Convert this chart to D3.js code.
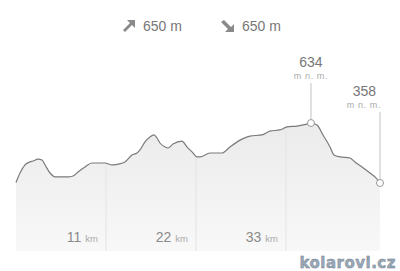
<!DOCTYPE html>
<html>
<head>
<meta charset="utf-8">
<script src="https://cdn.jsdelivr.net/npm/d3@7"></script>
<style>
  html,body{margin:0;padding:0;background:#fff;}
  svg{display:block;font-family:"Liberation Sans",Arial,sans-serif;}
</style>
</head>
<body>
<svg id="chart" width="400" height="271"></svg>
<script>
// profile: distance (km) / elevation (m n. m.)
const dist = [0,0.49,1.10,1.71,2.08,2.69,3.18,3.55,4.16,4.77,5.38,6.36,6.97,7.58,8.44,9.29,10.02,10.88,
  11.74,12.47,13.33,14.18,14.79,15.16,15.77,16.38,16.87,17.24,17.60,18.21,18.58,19.19,20.29,20.90,21.52,
  22.13,22.49,23.72,25.18,26.16,27.63,28.61,30.07,31.05,32.27,33.13,34.35,35.57,36.06,36.80,37.53,38.39,
  38.88,39.61,40.83,41.44,42.30,43.28,43.89,44.5];
const elev = [360,404,441,455,459,468,464,441,404,386,386,386,390,409,432,450,450,450,
  441,445,455,487,496,510,547,570,579,565,542,524,519,537,551,524,501,
  478,478,496,496,524,560,574,579,597,602,616,620,629,634,625,579,524,
  487,478,473,455,432,404,386,358];
const kmTicks = [11,22,33];
const ascent = 650, descent = 650;
const marks = [{km:36.06, ele:634, anchor:"middle"}, {km:44.5, ele:358, anchor:"end"}];

const svg = d3.select("#chart");
const x = d3.scaleLinear().domain([0,44.5]).range([16,380]);
const y = d3.scaleLinear().domain([358,634]).range([183,123]);
const yBase = 251;
const pts = dist.map((d,i)=>[d,elev[i]]);

const defs = svg.append("defs");
const grad = defs.append("linearGradient").attr("id","fill").attr("x1",0).attr("y1",0).attr("x2",0).attr("y2",1);
grad.append("stop").attr("offset","0%").attr("stop-color","#ebebeb");
grad.append("stop").attr("offset","100%").attr("stop-color","#f8f8f8");

const area = d3.area().x(d=>x(d[0])).y0(yBase).y1(d=>y(d[1])).curve(d3.curveMonotoneX);
const line = d3.line().x(d=>x(d[0])).y(d=>y(d[1])).curve(d3.curveMonotoneX);

defs.append("clipPath").attr("id","clip").append("path").attr("d",area(pts));

svg.append("path").attr("d",area(pts)).attr("fill","url(#fill)");

// vertical km grid, only inside the profile
svg.append("g").attr("clip-path","url(#clip)")
  .selectAll("line").data(kmTicks).enter().append("line")
  .attr("x1",d=>x(d)).attr("x2",d=>x(d)).attr("y1",100).attr("y2",yBase)
  .attr("stroke","#e4e4e4").attr("stroke-width",1);

svg.append("path").attr("d",line(pts)).attr("fill","none")
  .attr("stroke","#7a7a7a").attr("stroke-width",1.2);

// km labels
const lab = svg.append("g").selectAll("text").data(kmTicks).enter().append("text")
  .attr("x",d=>x(d)-8).attr("y",242).attr("text-anchor","end");
lab.append("tspan").attr("font-size",14).attr("fill","#8a8a8a").text(d=>d+" ");
lab.append("tspan").attr("font-size",9.5).attr("fill","#aaa").text("km");

// markers: peak and finish
marks.forEach((m,i)=>{
  const cx = x(m.km), cy = y(m.ele);
  const top = i===0 ? 83 : 112;
  svg.append("line").attr("x1",cx).attr("x2",cx).attr("y1",top).attr("y2",cy-3.5)
    .attr("stroke","#d0d0d0").attr("stroke-width",1.3);
  svg.append("circle").attr("cx",cx).attr("cy",cy).attr("r",3.5)
    .attr("fill","#fff").attr("stroke","#999").attr("stroke-width",1);
  const tx = m.anchor==="end" ? cx+1 : cx;
  svg.append("text").attr("x",m.anchor==="end"? tx-5 : tx).attr("y",top-16)
    .attr("text-anchor",m.anchor).attr("font-size",14).attr("fill","#777").text(m.ele);
  svg.append("text").attr("x",tx).attr("y",top-4)
    .attr("text-anchor",m.anchor).attr("font-size",9).attr("letter-spacing",0.6)
    .attr("fill","#aaa").text("m n. m.");
});

// header: ascent / descent
const hdr = svg.append("g");
hdr.append("path").attr("d","M123,30 L130,23 L127,20 L135,20 L135,28 L132,25 L125,32 Z").attr("fill","#8a8a8a");
hdr.append("text").attr("x",143).attr("y",31).attr("font-size",14).attr("fill","#777").text(ascent+" m");
hdr.append("path").attr("d","M221,22 L228,29 L225,32 L234,32 L234,24 L231,27 L224,20 Z").attr("fill","#8a8a8a");
hdr.append("text").attr("x",242).attr("y",31).attr("font-size",14).attr("fill","#777").text(descent+" m");

// watermark
svg.append("text").attr("x",396).attr("y",268).attr("text-anchor","end")
  .attr("font-family","DejaVu Sans, Verdana, sans-serif").attr("font-weight","bold").attr("font-size",15)
  .attr("fill","#9aa8b8").attr("stroke","#6d7a88").attr("stroke-width",0.4).attr("letter-spacing",0.5)
  .text("kolarovi.cz");
</script>
</body>
</html>
